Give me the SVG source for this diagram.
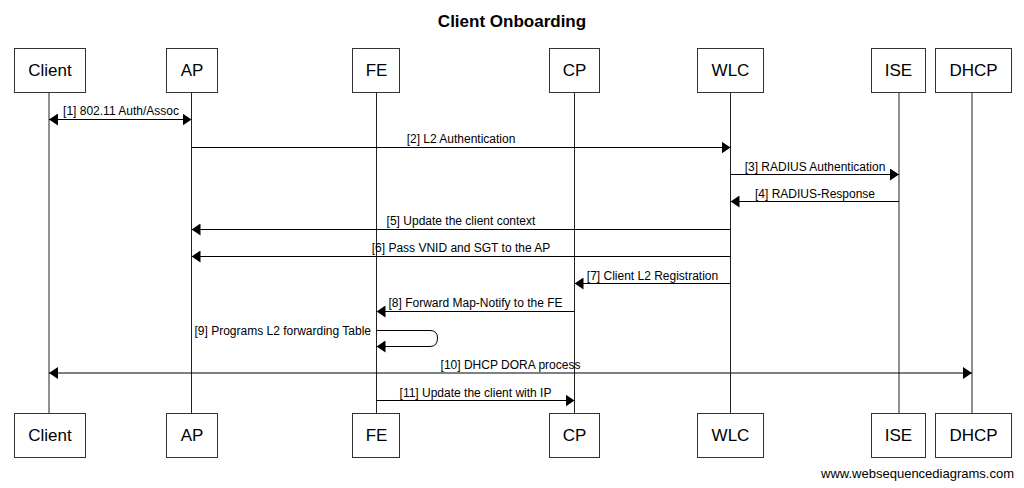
<svg xmlns="http://www.w3.org/2000/svg" width="1024" height="488" viewBox="0 0 1024 488">
<style>
.box{fill:#fff;stroke:#333;stroke-width:1}
.lbl{font-family:"Liberation Sans",Arial,sans-serif;font-size:17px;fill:#000;text-anchor:middle}
.life{stroke:#222;stroke-width:1;fill:none}
.msg{stroke:#000;stroke-width:1;fill:none}
.mt{font-family:"Liberation Sans",Arial,sans-serif;font-size:12px;fill:#000;text-anchor:middle}
.title{font-family:"Liberation Sans",Arial,sans-serif;font-size:17px;font-weight:bold;fill:#000;text-anchor:middle}
.foot{font-family:"Liberation Sans",Arial,sans-serif;font-size:13px;fill:#000;text-anchor:end}
</style>
<defs>
<marker id="ah" viewBox="0 0 9 12" refX="9" refY="6" markerWidth="9" markerHeight="12" markerUnits="userSpaceOnUse" orient="auto-start-reverse">
<path d="M0,0 L9,6 L0,12 z" fill="#000"/>
</marker>
</defs>
<rect width="1024" height="488" fill="#fff"/>
<text class="title" x="512" y="27">Client Onboarding</text>

<g id="lifelines">
<line class="life" x1="49" y1="92" x2="49" y2="413"/>
<line class="life" x1="191.5" y1="92" x2="191.5" y2="413"/>
<line class="life" x1="376.5" y1="92" x2="376.5" y2="413"/>
<line class="life" x1="574.5" y1="92" x2="574.5" y2="413"/>
<line class="life" x1="730.5" y1="92" x2="730.5" y2="413"/>
<line class="life" x1="899" y1="92" x2="899" y2="413"/>
<line class="life" x1="972" y1="92" x2="972" y2="413"/>
</g>

<g id="Client">
<rect class="box" x="14.5" y="48.5" width="71" height="44"/>
<text class="lbl" x="50" y="76">Client</text>
<rect class="box" x="14.5" y="413.5" width="71" height="44"/>
<text class="lbl" x="50" y="441">Client</text>
</g>
<g id="AP">
<rect class="box" x="166.5" y="48.5" width="51" height="44"/>
<text class="lbl" x="192" y="76">AP</text>
<rect class="box" x="166.5" y="413.5" width="51" height="44"/>
<text class="lbl" x="192" y="441">AP</text>
</g>
<g id="FE">
<rect class="box" x="352.5" y="48.5" width="47" height="44"/>
<text class="lbl" x="376.5" y="76">FE</text>
<rect class="box" x="352.5" y="413.5" width="47" height="44"/>
<text class="lbl" x="376.5" y="441">FE</text>
</g>
<g id="CP">
<rect class="box" x="549.5" y="48.5" width="50" height="44"/>
<text class="lbl" x="574.5" y="76">CP</text>
<rect class="box" x="549.5" y="413.5" width="50" height="44"/>
<text class="lbl" x="574.5" y="441">CP</text>
</g>
<g id="WLC">
<rect class="box" x="697.5" y="48.5" width="66" height="44"/>
<text class="lbl" x="730.5" y="76">WLC</text>
<rect class="box" x="697.5" y="413.5" width="66" height="44"/>
<text class="lbl" x="730.5" y="441">WLC</text>
</g>
<g id="ISE">
<rect class="box" x="871.5" y="48.5" width="54" height="44"/>
<text class="lbl" x="898.5" y="76">ISE</text>
<rect class="box" x="871.5" y="413.5" width="54" height="44"/>
<text class="lbl" x="898.5" y="441">ISE</text>
</g>
<g id="DHCP">
<rect class="box" x="935.5" y="48.5" width="76" height="44"/>
<text class="lbl" x="973.5" y="76">DHCP</text>
<rect class="box" x="935.5" y="413.5" width="76" height="44"/>
<text class="lbl" x="973.5" y="441">DHCP</text>
</g>

<g id="connectors">
<line class="msg" x1="49" y1="119.5" x2="191.5" y2="119.5" marker-start="url(#ah)" marker-end="url(#ah)"/>
<text class="mt" x="121" y="115">[1] 802.11 Auth/Assoc</text>
<line class="msg" x1="191.5" y1="147.5" x2="730.5" y2="147.5" marker-end="url(#ah)"/>
<text class="mt" x="461" y="143">[2] L2 Authentication</text>
<line class="msg" x1="730.5" y1="174.5" x2="899" y2="174.5" marker-end="url(#ah)"/>
<text class="mt" x="815" y="171">[3] RADIUS Authentication</text>
<line class="msg" x1="899" y1="201.5" x2="730.5" y2="201.5" marker-end="url(#ah)"/>
<text class="mt" x="815" y="198">[4] RADIUS-Response</text>
<line class="msg" x1="730.5" y1="229.5" x2="191.5" y2="229.5" marker-end="url(#ah)"/>
<text class="mt" x="461" y="225">[5] Update the client context</text>
<line class="msg" x1="730.5" y1="256.5" x2="191.5" y2="256.5" marker-end="url(#ah)"/>
<text class="mt" x="461" y="252">[6] Pass VNID and SGT to the AP</text>
<line class="msg" x1="730.5" y1="283.5" x2="574.5" y2="283.5" marker-end="url(#ah)"/>
<text class="mt" x="652.5" y="280">[7] Client L2 Registration</text>
<line class="msg" x1="574.5" y1="311.5" x2="376.5" y2="311.5" marker-end="url(#ah)"/>
<text class="mt" x="475.5" y="307">[8] Forward Map-Notify to the FE</text>
<path class="msg" d="M376.5,330.5 H430 Q437.5,330.5 437.5,338 Q437.5,346.5 430,346.5 H376.5" marker-end="url(#ah)"/>
<text class="mt" x="371" y="335" style="text-anchor:end">[9] Programs L2 forwarding Table</text>
<line class="msg" x1="49" y1="373" x2="972" y2="373" marker-start="url(#ah)" marker-end="url(#ah)"/>
<text class="mt" x="510.5" y="369">[10] DHCP DORA process</text>
<line class="msg" x1="376.5" y1="400.5" x2="574.5" y2="400.5" marker-end="url(#ah)"/>
<text class="mt" x="475.5" y="397">[11] Update the client with IP</text>
</g>

<text class="foot" x="1014" y="478">www.websequencediagrams.com</text>
</svg>
